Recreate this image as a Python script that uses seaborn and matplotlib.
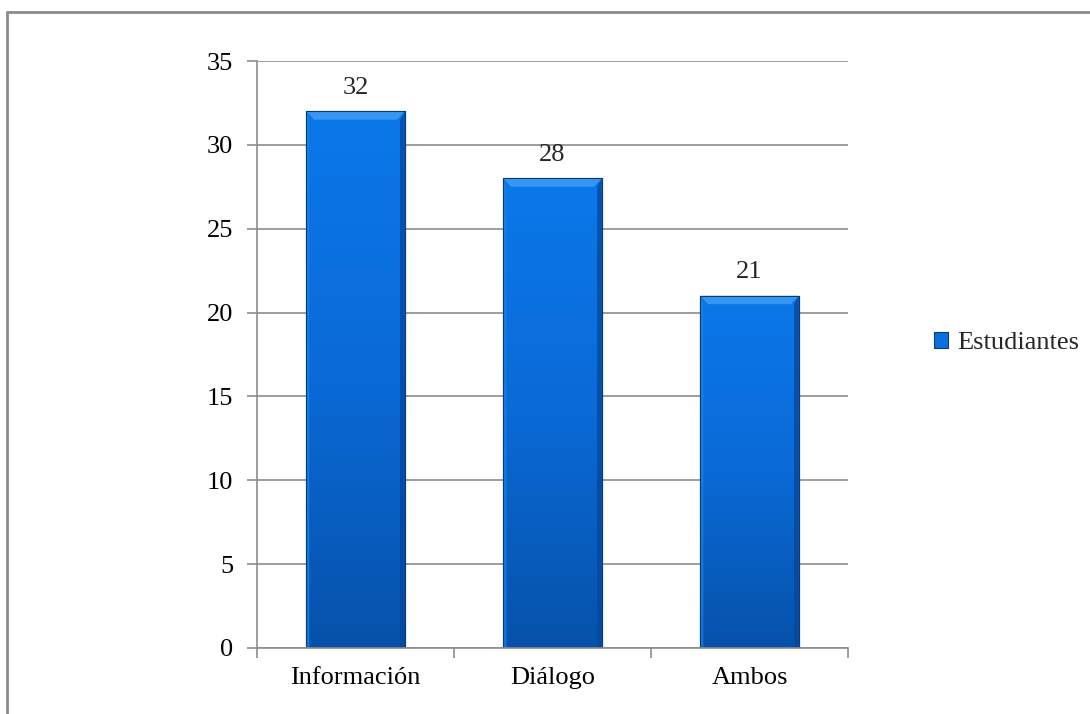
import numpy as np
import pandas as pd
import matplotlib
matplotlib.use("Agg")
import matplotlib.pyplot as plt
from matplotlib.lines import Line2D
from matplotlib.patches import Polygon
from matplotlib.colors import LinearSegmentedColormap
import seaborn as sns

# datos del gráfico
categorias = ["Información", "Diálogo", "Ambos"]
estudiantes = [32, 28, 21]
serie = "Estudiantes"
yticks = [0, 5, 10, 15, 20, 25, 30, 35]

df = pd.DataFrame({"categoria": categorias, "valor": estudiantes})

sns.set_theme(style="white")
plt.rcParams['font.family'] = ['Liberation Serif', 'DejaVu Serif']
plt.rcParams['font.size'] = 19

fig = plt.figure(figsize=(10.9, 7.14), dpi=100)
ax = fig.add_axes([257 / 1090, 1 - 648 / 714, (848 - 257) / 1090, (648 - 61) / 714])

sns.barplot(data=df, x="categoria", y="valor", color="#0A6FDD", width=0.5,
            saturation=1, ax=ax, label=serie, edgecolor="#0A3C78", linewidth=0.8)

ax.set_ylim(0, 35)
ax.set_xlim(-0.5, len(categorias) - 0.5)
ax.set_yticks(yticks)
ax.set_xlabel("")
ax.set_ylabel("")

# degradado y biseles en las barras
cmap = LinearSegmentedColormap.from_list("azul", ["#0652AA", "#0A6AD6", "#0B78EA"])
grad = np.linspace(0, 1, 256).reshape(-1, 1)
for p in list(ax.patches):
    x0, y0 = p.get_x(), p.get_y()
    w, h = p.get_width(), p.get_height()
    im = ax.imshow(grad, cmap=cmap, aspect="auto", origin="lower",
                   extent=[x0, x0 + w, y0, y0 + h], zorder=p.get_zorder() + 0.1)
    im.set_clip_path(p)
    dx = w * 0.08
    dy = 0.5
    top = Polygon([[x0, y0 + h], [x0 + w, y0 + h], [x0 + w - dx, y0 + h - dy], [x0 + dx, y0 + h - dy]],
                  closed=True, facecolor="#3D9AF5", edgecolor="none", alpha=0.9,
                  zorder=p.get_zorder() + 0.2)
    right = Polygon([[x0 + w, y0], [x0 + w, y0 + h], [x0 + w - dx * 0.6, y0 + h - dy], [x0 + w - dx * 0.6, y0]],
                    closed=True, facecolor="#0547A0", edgecolor="none", alpha=0.8,
                    zorder=p.get_zorder() + 0.2)
    left = Polygon([[x0, y0], [x0, y0 + h], [x0 + dx * 0.4, y0 + h - dy], [x0 + dx * 0.4, y0]],
                   closed=True, facecolor="#1A82EE", edgecolor="none", alpha=0.7,
                   zorder=p.get_zorder() + 0.2)
    for poly in (top, right, left):
        ax.add_patch(poly)
    ax.add_patch(plt.Rectangle((x0, y0), w, h, fill=False, edgecolor="#0A3C78",
                               linewidth=0.8, zorder=p.get_zorder() + 0.3))
    ax.annotate(f"{int(round(h))}", (x0 + w / 2, y0 + h), xytext=(0, 9),
                textcoords="offset points", ha="center", va="bottom", fontsize=19)

ax.yaxis.grid(True, color="#8C8C8C", linewidth=1.2)
ax.set_axisbelow(True)
for s in ["top", "right"]:
    ax.spines[s].set_visible(False)
for s in ["left", "bottom"]:
    ax.spines[s].set_color("#8C8C8C")
    ax.spines[s].set_linewidth(1.2)

# marcas del eje x en los límites de categoría
ax.set_xticks(np.arange(len(categorias)))
ax.set_xticklabels(categorias)
ax.set_xticks(np.arange(-0.5, len(categorias)), minor=True)
ax.tick_params(axis="x", which="major", bottom=False, length=0, pad=13.5)
ax.tick_params(axis="x", which="minor", bottom=True, length=7, width=1.2, color="#8C8C8C", direction="out")
ax.tick_params(axis="y", left=True, length=7, width=1.2, color="#8C8C8C", direction="out", pad=10)
ax.tick_params(labelsize=19, labelcolor="black")

leg = ax.legend(loc="center left", bbox_to_anchor=(1.105, 0.52), frameon=False,
                handlelength=0.55, handleheight=0.55, handletextpad=0.35, fontsize=19)
for h in leg.legend_handles:
    h.set_facecolor("#0A6FDD")
    h.set_edgecolor("#0A3C78")

# marco del gráfico
fig.add_artist(Line2D([7 / 1090, 1], [1 - 12 / 714, 1 - 12 / 714], color="#8C8C8C", linewidth=2))
fig.add_artist(Line2D([7 / 1090, 7 / 1090], [0, 1 - 12 / 714], color="#8C8C8C", linewidth=2))

fig.savefig("out.png", dpi=100)
